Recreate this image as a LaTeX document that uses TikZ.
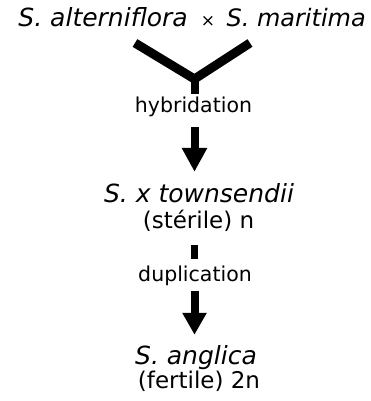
\documentclass[tikz,border=0pt]{standalone}
\usepackage{fontspec}
\setmainfont{DejaVu Sans}
\usetikzlibrary{arrows.meta}

\begin{document}
\begin{tikzpicture}[x=1pt, y=1pt]
    \tikzstyle{species}=[font=\fontsize{25}{27}\selectfont\itshape, inner sep=0pt, anchor=base]
    \tikzstyle{ploidy}=[font=\fontsize{23}{25}\selectfont, inner sep=0pt, anchor=base]
    \tikzstyle{process}=[ploidy, font=\fontsize{20.5}{22}\selectfont]
    \tikzstyle{fork}=[line width=9pt, line join=miter]
    \tikzstyle{stub}=[line width=7pt]
    \tikzstyle{big arrow}=[line width=8pt, -{Triangle[width=24pt,length=24pt]}]

    \useasboundingbox (0,0) rectangle (370,-401);

    % Parent species
    \node[species, anchor=base east] (P1) at (188,-27) {S. alterniflora};
    \node[species, font=\fontsize{17}{17}\selectfont] (X) at (208,-27) {×};
    \node[species, anchor=base east, font=\fontsize{24}{26}\selectfont\itshape] (P2) at (366,-27) {S. maritima};
    \coordinate (Pl) at (135,-43);
    \coordinate (Pr) at (250,-43);
    \coordinate (J) at (194.5,-79);

    % Hybrid and its allopolyploid
    \node[process] (hyb) at (193.5,-113) {hybridation};
    \node[species] (T) at (199,-202) {S. x townsendii};
    \node[ploidy] (Tn) at (198.5,-228) {(stérile) n};
    \node[process] (dup) at (195,-281) {duplication};
    \node[species] (A) at (196,-364) {S. anglica};
    \node[ploidy] (An) at (199,-388) {(fertile) 2n};

    % The cross
    \draw[fork] (Pl) -- (J) -- (Pr);
    \draw[fork, line width=8pt, shorten >=3pt] (J) -- (J |- hyb.north);

    % Arrows between the steps
    \draw[big arrow, shorten <=10pt, shorten >=11pt] (hyb.south -| J) -- (T.north -| J);
    \draw[stub, shorten <=14pt, shorten >=6pt] (Tn.south -| J) -- (dup.north -| J);
    \draw[big arrow, -{Triangle[width=23pt,length=22pt]}, shorten <=6pt, shorten >=10pt] (dup.south -| J) -- (A.north -| J);
\end{tikzpicture}
\end{document}
